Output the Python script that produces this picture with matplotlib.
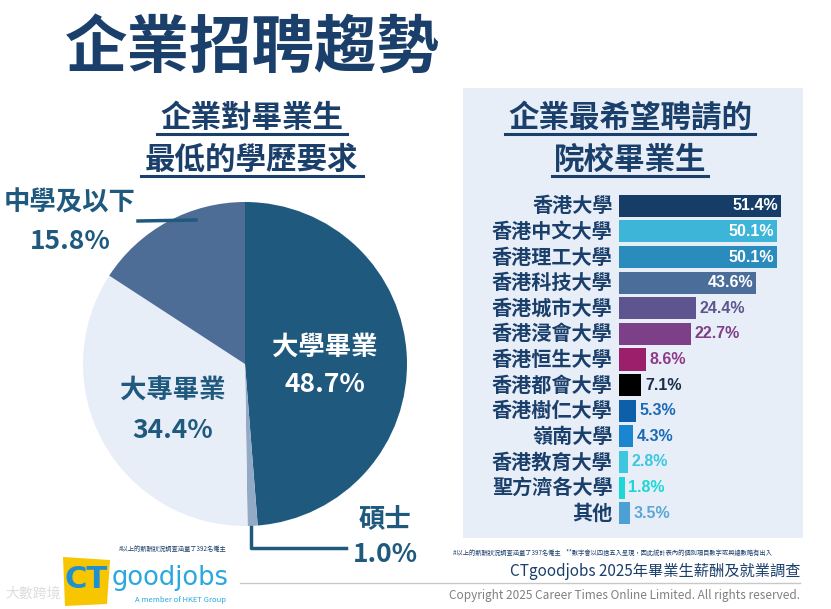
import numpy as np
import matplotlib.pyplot as plt
from matplotlib.patches import Rectangle, Polygon
from matplotlib.lines import Line2D

plt.rcParams['font.family'] = ['Noto Sans CJK TC', 'DejaVu Sans']

# pie data (clockwise from top)
edu_labels = ['大學畢業', '碩士', '大專畢業', '中學及以下']
edu_values = [48.7, 1.0, 34.4, 15.8]
edu_colors = ['#1f5a7e', '#93aac6', '#e8eef8', '#4e6d96']

# bar data
schools = ['香港大學', '香港中文大學', '香港理工大學', '香港科技大學', '香港城市大學',
           '香港浸會大學', '香港恒生大學', '香港都會大學', '香港樹仁大學', '嶺南大學',
           '香港教育大學', '聖方濟各大學', '其他']
school_values = [51.4, 50.1, 50.1, 43.6, 24.4, 22.7, 8.6, 7.1, 5.3, 4.3, 2.8, 1.8, 3.5]
bar_colors = ['#163d68', '#3db5d8', '#2a8cbd', '#4a6d9a', '#5e5590', '#7d3f88',
              '#9b1f6a', '#000000', '#0d5fa8', '#1a86d0', '#3cc6e0', '#1dd6d6', '#4ca0d4']
label_colors = ['white', 'white', 'white', 'white', '#5e5590', '#7d3f88',
                '#8e3a8a', '#1a2e4a', '#1a6ab5', '#1a6ab5', '#3cc6e0', '#1dd6d6', '#5ba7d5']

W, H = 831, 609
navy = '#1a3f6b'
teal = '#1f5a7e'

def fx(x):
	return x / W

def fy(y):
	return 1 - y / H

fig = plt.figure(figsize=(W/100, H/100), dpi=100, facecolor='white')

# main title
fig.text(fx(65), fy(48), '企業招聘趨勢', fontsize=45, fontweight='black',
         color=navy, ha='left', va='center')

# right panel background
fig.add_artist(Rectangle((fx(463), fy(538)), fx(803)-fx(463), fy(88)-fy(538),
                         transform=fig.transFigure, facecolor='#e8eef8',
                         edgecolor='none', zorder=0))

# subtitles with underline
def sub(x, y, s, x0, x1):
	fig.text(fx(x), fy(y), s, fontsize=22, fontweight='black', color=navy,
	         ha='center', va='center')
	fig.add_artist(Line2D([fx(x0), fx(x1)], [fy(y+16), fy(y+16)],
	                      transform=fig.transFigure, color=navy, linewidth=2.2))

sub(252, 118, '企業對畢業生', 157, 347)
sub(252, 160, '最低的學歷要求', 141, 363)
sub(630, 118, '企業最希望聘請的', 505, 755)
sub(630, 160, '院校畢業生', 552, 708)

# pie
pax = fig.add_axes([fx(83), fy(526), fx(324), 324/H])
pax.pie(edu_values, colors=edu_colors, startangle=90, counterclock=False,
        radius=1.0, wedgeprops=dict(linewidth=0))
pax.set_xlim(-1, 1)
pax.set_ylim(-1, 1)
pax.set_aspect('equal')
pax.axis('off')

def plabel(x, y, s, c):
	fig.text(fx(x), fy(y), s, fontsize=19, fontweight='black', color=c,
	         ha='center', va='center')

plabel(325, 347, '大學畢業', 'white')
plabel(325, 384, f'{edu_values[0]}%', 'white')
plabel(173, 390, '大專畢業', teal)
plabel(173, 430, f'{edu_values[2]}%', teal)
plabel(70, 203, '中學及以下', teal)
plabel(70, 241, f'{edu_values[3]}%', teal)
plabel(385, 519, '碩士', teal)
plabel(385, 554, f'{edu_values[1]}%', teal)

fig.add_artist(Line2D([fx(138), fx(196)], [fy(221), fy(220)], transform=fig.transFigure,
                      color=teal, linewidth=2.5))
fig.add_artist(Line2D([fx(251), fx(251), fx(346)], [fy(527), fy(548), fy(548)],
                      transform=fig.transFigure, color=teal, linewidth=2.5))

# bars
bax = fig.add_axes([fx(619), fy(526), 55*3.15/W, (526-193)/H])
ypos = np.arange(len(schools))
bars = bax.barh(ypos, school_values, height=0.86, color=bar_colors)
bax.set_xlim(0, 55)
bax.set_ylim(len(schools)-0.5, -0.5)
bax.axis('off')
for i, (v, c) in enumerate(zip(school_values, label_colors)):
	if v > 40:
		bax.text(v-1, i, f'{v}%', color=c, fontsize=11.5, fontweight='bold',
		         ha='right', va='center', family='Liberation Sans')
	else:
		bax.text(v+1.2, i, f'{v}%', color=c, fontsize=11.5, fontweight='bold',
		         ha='left', va='center', family='Liberation Sans')
	bax.text(-2, i, schools[i], color=navy, fontsize=14.5, fontweight='black',
	         ha='right', va='center')

# footnotes
fig.text(fx(227), fy(549), '#以上的薪酬狀況調查涵蓋了392名僱主', fontsize=4.5,
         color=navy, ha='right', va='center')
fig.text(fx(453), fy(553), '#以上的薪酬狀況調查涵蓋了397名僱主    **數字會以四捨五入呈現，因此統計表內的個別項目數字或與總數略有出入',
         fontsize=4.5, color=navy, ha='left', va='center')
fig.text(fx(800), fy(571), 'CTgoodjobs 2025年畢業生薪酬及就業調查', fontsize=11,
         color=navy, ha='right', va='center')
fig.add_artist(Line2D([fx(240), fx(800)], [fy(583), fy(583)], transform=fig.transFigure,
                      color='#c8c8c8', linewidth=1))
fig.text(fx(800), fy(595), 'Copyright 2025 Career Times Online Limited. All rights reserved.',
         fontsize=8.5, color='#808080', ha='right', va='center')

# logo
fig.add_artist(Polygon([[fx(63), fy(557)], [fx(110), fy(560)], [fx(107), fy(604)], [fx(65), fy(606)]],
                       closed=True, transform=fig.transFigure, facecolor='#f7c600',
                       edgecolor='none'))
fig.text(fx(86), fy(580), 'CT', fontsize=22, fontweight='bold', color='#1e8fd0',
         ha='center', va='center', family='DejaVu Sans')
fig.text(fx(112), fy(578), 'goodjobs', fontsize=18.5, color='#29a8e0',
         ha='left', va='center', family='DejaVu Sans')
fig.text(fx(226), fy(600), 'A member of HKET Group', fontsize=5.5, color='#29a8e0',
         ha='right', va='center')
fig.text(fx(5), fy(594), '大數跨境', fontsize=10, color='#dddddd',
         ha='left', va='center')

plt.savefig('out.png', dpi=100, facecolor='white')
